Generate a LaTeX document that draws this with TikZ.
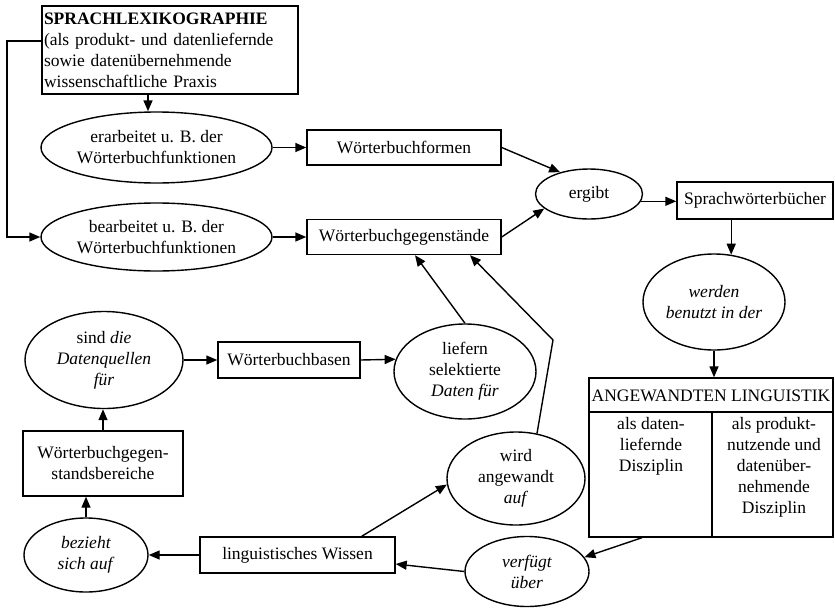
\documentclass[tikz,border=0pt]{standalone}
\usepackage{fontspec}
\setmainfont{Liberation Serif}
\usetikzlibrary{arrows.meta,shapes.geometric,calc}
\begin{document}
\begin{tikzpicture}[x=1pt,y=-1pt,
  txt/.style={font=\fontsize{17.5}{21}\selectfont, inner sep=0pt, align=center},
  wbox/.style={txt, draw, line width=1.4pt, rectangle},
  well/.style={txt, draw, line width=1.4pt, ellipse},
  arr/.style={line width=1.4pt, -{Triangle[length=11pt,width=9pt]}},
  ln/.style={line width=1.4pt}]
\useasboundingbox (0,0) rectangle (835,608);

\node[wbox, minimum width=256pt, minimum height=88pt, text width=252pt, align=left] (lex) at (170,50)
  {\textbf{SPRACHLEXIKOGRAPHIE}\\(als produkt- und datenliefernde\\sowie datenübernehmende\\wissenschaftliche Praxis};
\node[well, minimum width=231pt, minimum height=71pt] (erar) at (156.5,147.5) {erarbeitet u. B. der\\Wörterbuchfunktionen};
\node[well, minimum width=231pt, minimum height=68pt] (bear) at (156.5,237) {bearbeitet u. B. der\\Wörterbuchfunktionen};
\node[wbox, minimum width=194pt, minimum height=35pt] (wform) at (404,147.5) {Wörterbuchformen};
\node[wbox, minimum width=194pt, minimum height=35pt] (wgs) at (404,237) {Wörterbuchgegenstände};
\node[well, minimum width=107pt, minimum height=50pt] (ergibt) at (589,194) {ergibt};
\node[wbox, minimum width=156pt, minimum height=37pt] (sw) at (755,200.5) {Sprachwörterbücher};
\node[well, minimum width=142pt, minimum height=96pt] (werden) at (714,302) {\textit{werden}\\\textit{benutzt in der}};
\node[wbox, minimum width=244pt, minimum height=159pt] (ang) at (711,457.5) {};
\node[txt] (angh) at (711,396) {ANGEWANDTEN LINGUISTIK};
\node[txt, anchor=north] (angl) at (651,417) {als daten-\\liefernde\\Disziplin};
\node[txt, anchor=north] (angr) at (774,417) {als produkt-\\nutzende und\\datenüber-\\nehmende\\Disziplin};
\node[well, minimum width=158pt, minimum height=97pt] (sind) at (104,360) {sind \textit{die}\\\textit{Datenquellen}\\\textit{für}};
\node[wbox, minimum width=142pt, minimum height=36pt] (wbas) at (289,360) {Wörterbuchbasen};
\node[well, minimum width=142pt, minimum height=95pt] (lief) at (465,371.5) {liefern\\selektierte\\\textit{Daten für}};
\node[wbox, minimum width=160pt, minimum height=65pt] (wgb) at (103,463.5) {Wörterbuchgegen-\\standsbereiche};
\node[well, minimum width=124pt, minimum height=74pt] (bez) at (86,555) {\textit{bezieht}\\\textit{sich auf}};
\node[wbox, minimum width=195pt, minimum height=36pt] (ling) at (297.5,555) {linguistisches Wissen};
\node[well, minimum width=138pt, minimum height=93pt] (wird) at (516,478.5) {wird\\angewandt\\\textit{auf}};
\node[well, minimum width=124pt, minimum height=70pt] (verf) at (527,571.5) {\textit{verfügt}\\\textit{über}};

\coordinate (c1) at (148,0);
\coordinate (c2) at (7,41);
\coordinate (c4) at (642,0);
\coordinate (c5) at (553,340);

\draw[ln] ([yshift=-34.7pt]ang.north west) -- ([yshift=-34.7pt]ang.north east);
\draw[ln] ([xshift=123.7pt,yshift=-34.7pt]ang.north west) -- ([xshift=123.7pt]ang.south west);

\draw[arr] (lex.south -| c1) -- (erar.north -| c1);
\draw[arr] (lex.west |- c2) -- (c2) |- (bear.west);
\draw[arr] (erar.east) -- (wform.west);
\draw[arr] (bear.east) -- (wgs.west);
\draw[arr] (wform.east) -- (ergibt.143);
\draw[arr] (wgs.east) -- (ergibt.198);
\draw[arr] (ergibt.-8) -- (ergibt.-8 -| sw.west);
\draw[arr] (werden.70 |- sw.south) -- (werden.70);
\draw[arr] (werden.south) -- (werden.south |- ang.north);
\draw[arr] (ang.south -| c4) -- (verf.14);
\draw[arr] (verf.west) -- ([yshift=-9pt]ling.east);
\draw[arr] (ling.west) -- (bez.east);
\draw[arr] (bez.north) -- (bez.north |- wgb.south);
\draw[arr] (wgb.north) -- (wgb.north |- sind.south);
\draw[arr] (sind.east) -- (wbas.west);
\draw[arr] (wbas.east) -- (lief.170);
\draw[arr] (lief.north) -- ([xshift=11pt]wgs.south);
\draw[arr] ([xshift=-34pt]ling.north east) -- (wird.185);
\draw[arr] (wird.65) -- (c5) -- ([xshift=66pt]wgs.south);
\end{tikzpicture}
\end{document}
